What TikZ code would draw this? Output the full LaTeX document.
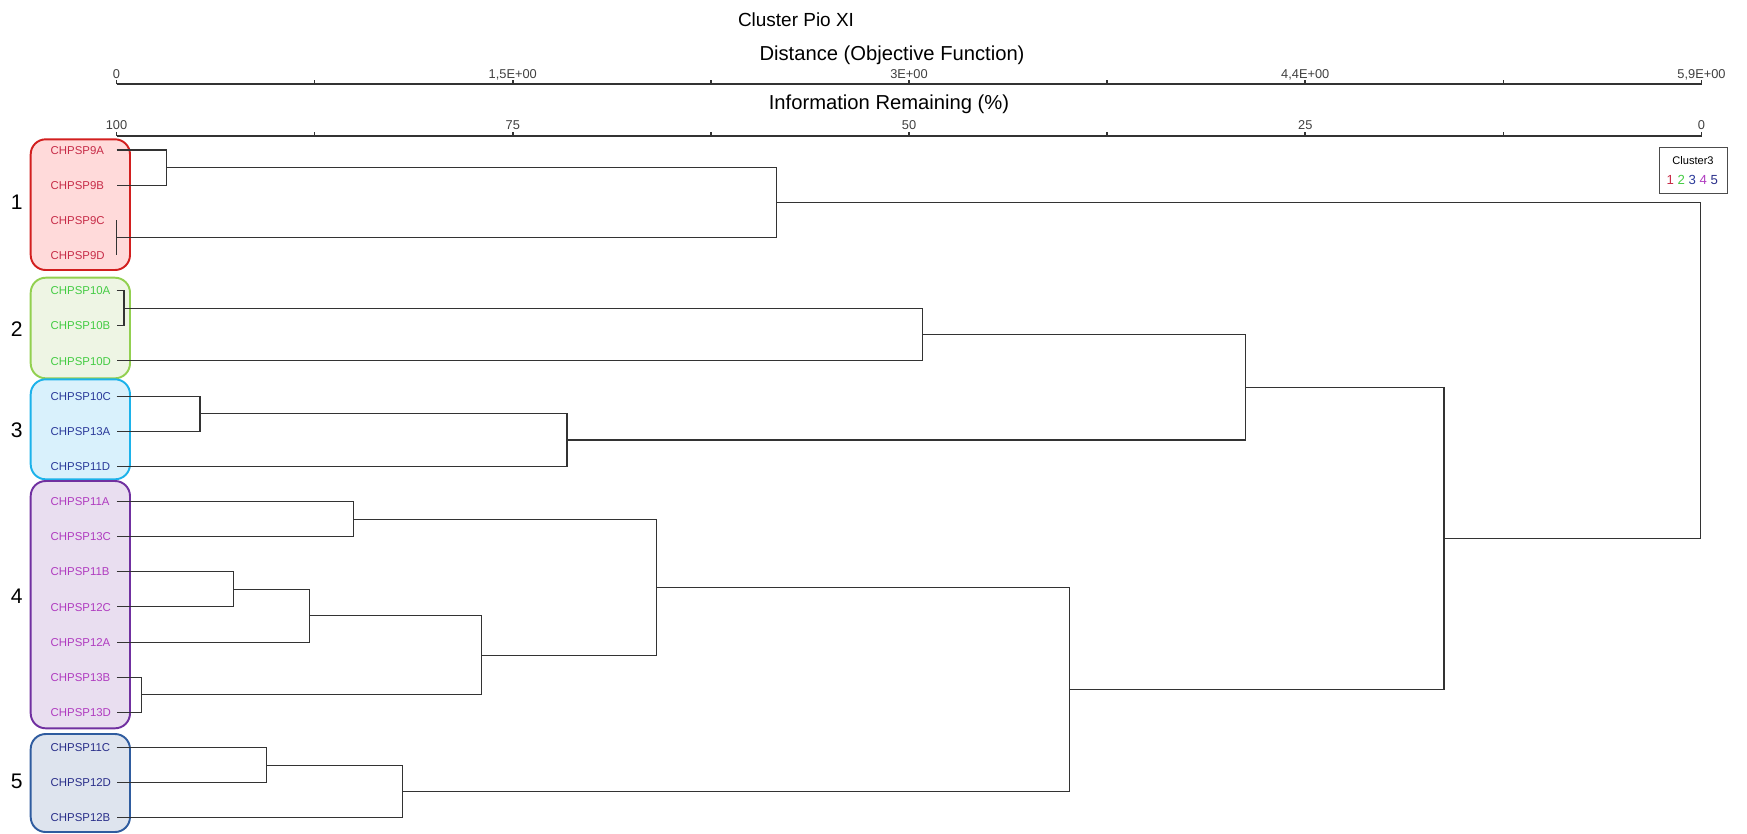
\documentclass[tikz,border=0pt]{standalone}
\usepackage{fontspec}
\setmainfont{Liberation Sans}
\usepackage{xcolor}
\usetikzlibrary{positioning,fit}

\definecolor{grpAline}{HTML}{D21F1F}
\definecolor{grpAfill}{HTML}{FFDADA}
\definecolor{grpBline}{HTML}{92D050}
\definecolor{grpBfill}{HTML}{EEF5E4}
\definecolor{grpCline}{HTML}{1CB2EA}
\definecolor{grpCfill}{HTML}{D9F1FC}
\definecolor{grpDline}{HTML}{7030A0}
\definecolor{grpDfill}{HTML}{E9DEF0}
\definecolor{grpEline}{HTML}{2F5C9F}
\definecolor{grpEfill}{HTML}{DEE4EE}
\definecolor{txtA}{HTML}{C72C48}
\definecolor{txtB}{HTML}{44CC44}
\definecolor{txtC}{HTML}{2B3A9A}
\definecolor{txtD}{HTML}{B03CC0}
\definecolor{txtE}{HTML}{2A2F8A}

\begin{document}
\begin{tikzpicture}[
  x=0.02cm, y=-0.02cm,
  every node/.style={inner sep=0pt},
  leaf/.style={anchor=east, font=\fontsize{6.5}{7}\selectfont, text width=1.31cm,
               align=left, text height=4.7pt, text depth=0pt},
  grp/.style={draw, line width=1.1pt, rounded corners=0.3cm, inner sep=0pt},
  num/.style={font=\fontsize{12}{14}\selectfont},
  link/.style={draw=black!80, line width=0.6pt},
  axis/.style={draw=black!80, line width=1.2pt},
  tick/.style={draw=black!80, line width=1pt},
  ticklbl/.style={font=\fontsize{7.3}{8}\selectfont, text=black!75, anchor=base},
  ttl/.style={font=\fontsize{11.5}{13}\selectfont},
  legbox/.style={draw=black!70, line width=0.6pt, inner sep=0pt}
]
\useasboundingbox (0,0) rectangle (1747,833);

%% titles and axes
\node[font=\fontsize{10.8}{12}\selectfont] (title) at (796,20) {Cluster Pio XI};
\node[ttl] (dist) at (892,55) {Distance (Objective Function)};
\node[ttl] (info) at (889,104) {Information Remaining (\%)};

\draw[axis] (116.5,84.3) -- (1701.5,84.3);
\draw[tick] (116.5,84.3) -- ++(0,-4) (314.6,84.3) -- ++(0,-4) (512.75,84.3) -- ++(0,-4)
  (710.9,84.3) -- ++(0,-4) (909,84.3) -- ++(0,-4) (1107.1,84.3) -- ++(0,-4)
  (1305.25,84.3) -- ++(0,-4) (1503.4,84.3) -- ++(0,-4) (1701.5,84.3) -- ++(0,-4);
\node[ticklbl] (d0) at (116.5,78.5) {0};
\node[ticklbl] (d1) at (512.75,78.5) {1,5E+00};
\node[ticklbl] (d2) at (909,78.5) {3E+00};
\node[ticklbl] (d3) at (1305.25,78.5) {4,4E+00};
\node[ticklbl] (d4) at (1701.5,78.5) {5,9E+00};

\draw[axis] (116.5,135.7) -- (1701.5,135.7);
\draw[tick] (116.5,135.7) -- ++(0,-4) (314.6,135.7) -- ++(0,-4) (512.75,135.7) -- ++(0,-4)
  (710.9,135.7) -- ++(0,-4) (909,135.7) -- ++(0,-4) (1107.1,135.7) -- ++(0,-4)
  (1305.25,135.7) -- ++(0,-4) (1503.4,135.7) -- ++(0,-4) (1701.5,135.7) -- ++(0,-4);
\node[ticklbl] (p0) at (116.5,129.5) {100};
\node[ticklbl] (p1) at (512.75,129.5) {75};
\node[ticklbl] (p2) at (909,129.5) {50};
\node[ticklbl] (p3) at (1305.25,129.5) {25};
\node[ticklbl] (p4) at (1701.5,129.5) {0};

%% cluster boxes
\node[grp, draw=grpAline, fill=grpAfill, fit={(30.7,139.3) (130,270)}] (box1) {};
\node[grp, draw=grpBline, fill=grpBfill, fit={(30.7,277.7) (130,378.3)}] (box2) {};
\node[grp, draw=grpCline, fill=grpCfill, fit={(30.7,379.3) (130,479.3)}] (box3) {};
\node[grp, draw=grpDline, fill=grpDfill, fit={(30.7,481) (130,728.3)}] (box4) {};
\node[grp, draw=grpEline, fill=grpEfill, fit={(30.7,734) (130,832)}] (box5) {};
\node[num] (k1) at (16.7,202) {1};
\node[num] (k2) at (16.7,329) {2};
\node[num] (k3) at (16.7,430.7) {3};
\node[num] (k4) at (16.7,596.7) {4};
\node[num] (k5) at (16.7,781.7) {5};

%% leaves
\node[leaf, text=txtA] (n9A) at (116.5,150) {CHPSP9A};
\node[leaf, text=txtA] (n9B) at (116.5,185.15) {CHPSP9B};
\node[leaf, text=txtA] (n9C) at (116.5,220.3) {CHPSP9C};
\node[leaf, text=txtA] (n9D) at (116.5,255.45) {CHPSP9D};
\node[leaf, text=txtB] (n10A) at (116.5,290.6) {CHPSP10A};
\node[leaf, text=txtB] (n10B) at (116.5,325.75) {CHPSP10B};
\node[leaf, text=txtB] (n10D) at (116.5,360.9) {CHPSP10D};
\node[leaf, text=txtC] (n10C) at (116.5,396.05) {CHPSP10C};
\node[leaf, text=txtC] (n13A) at (116.5,431.2) {CHPSP13A};
\node[leaf, text=txtC] (n11D) at (116.5,466.35) {CHPSP11D};
\node[leaf, text=txtD] (n11A) at (116.5,501.5) {CHPSP11A};
\node[leaf, text=txtD] (n13C) at (116.5,536.65) {CHPSP13C};
\node[leaf, text=txtD] (n11B) at (116.5,571.8) {CHPSP11B};
\node[leaf, text=txtD] (n12C) at (116.5,606.95) {CHPSP12C};
\node[leaf, text=txtD] (n12A) at (116.5,642.1) {CHPSP12A};
\node[leaf, text=txtD] (n13B) at (116.5,677.25) {CHPSP13B};
\node[leaf, text=txtD] (n13D) at (116.5,712.4) {CHPSP13D};
\node[leaf, text=txtE] (n11C) at (116.5,747.55) {CHPSP11C};
\node[leaf, text=txtE] (n12D) at (116.5,782.7) {CHPSP12D};
\node[leaf, text=txtE] (n12B) at (116.5,817.85) {CHPSP12B};

%% merge points
\coordinate (m9AB) at (166.7,167.6);
\coordinate (m9CD) at (116.5,237.9);
\coordinate (mC1) at (776.6,202.7);
\coordinate (m10AB) at (124,308.2);
\coordinate (mC2) at (922.6,334.5);
\coordinate (m10C13A) at (200,413.6);
\coordinate (mC3) at (567,440);
\coordinate (mC23) at (1245.7,387.3);
\coordinate (m11A13C) at (353.3,519.1);
\coordinate (m11B12C) at (233.3,589.4);
\coordinate (m11B12A) at (309.3,615.7);
\coordinate (m13BD) at (141.7,694.8);
\coordinate (m4low) at (481.7,655.3);
\coordinate (mC4) at (656.3,587.2);
\coordinate (m11C12D) at (266.7,765.1);
\coordinate (mC5) at (402.7,791.5);
\coordinate (mC45) at (1069.6,689.4);
\coordinate (mC2345) at (1444,538.3);
\coordinate (mRoot) at (1700.5,370.5);

%% tree
\draw[link] (n9A.east) -| (m9AB) |- (n9B.east);
\draw[link] (n9C.east) -| (m9CD) |- (n9D.east);
\draw[link] (m9AB) -| (mC1) |- (m9CD);
\draw[link] (n10A.east) -| (m10AB) |- (n10B.east);
\draw[link] (m10AB) -| (mC2) |- (n10D.east);
\draw[link] (n10C.east) -| (m10C13A) |- (n13A.east);
\draw[link] (m10C13A) -| (mC3) |- (n11D.east);
\draw[link] (mC2) -| (mC23) |- (mC3);
\draw[link] (n11A.east) -| (m11A13C) |- (n13C.east);
\draw[link] (n11B.east) -| (m11B12C) |- (n12C.east);
\draw[link] (m11B12C) -| (m11B12A) |- (n12A.east);
\draw[link] (n13B.east) -| (m13BD) |- (n13D.east);
\draw[link] (m11B12A) -| (m4low) |- (m13BD);
\draw[link] (m11A13C) -| (mC4) |- (m4low);
\draw[link] (n11C.east) -| (m11C12D) |- (n12D.east);
\draw[link] (m11C12D) -| (mC5) |- (n12B.east);
\draw[link] (mC4) -| (mC45) |- (mC5);
\draw[link] (mC23) -| (mC2345) |- (mC45);
\draw[link] (mC1) -| (mRoot) |- (mC2345);

%% legend
\node[legbox, fit={(1659.3,147.7) (1727.3,193.3)}] (leg) {};
\node[font=\fontsize{6.3}{7}\selectfont] (legttl) at (1693,160.7) {Cluster3};
\node[font=\fontsize{7.5}{8}\selectfont] (legnum) at (1692.3,180)
  {\textcolor{txtA}{1} \textcolor{txtB}{2} \textcolor{txtC}{3} \textcolor{txtD}{4} \textcolor{txtE}{5}};
\end{tikzpicture}
\end{document}
